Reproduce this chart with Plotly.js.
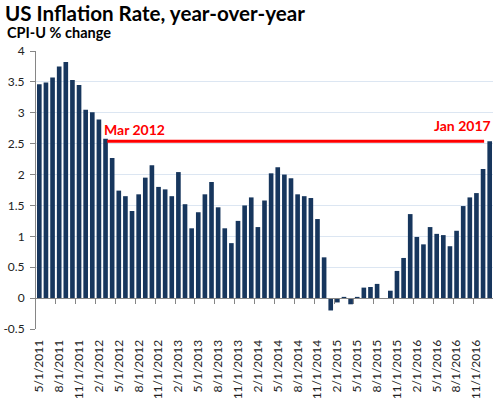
<!DOCTYPE html>
<html>
<head>
<meta charset="utf-8">
<script src="https://cdn.plot.ly/plotly-3.0.1.min.js"></script>
<style>html,body{margin:0;padding:0;background:#fff;}#chart{width:501px;height:398px;}</style>
</head>
<body>
<div id="chart"></div>
<script>
// ---- data ----
const categories = [
  "5/1/2011","6/1/2011","7/1/2011","8/1/2011","9/1/2011","10/1/2011","11/1/2011","12/1/2011",
  "1/1/2012","2/1/2012","3/1/2012","4/1/2012","5/1/2012","6/1/2012","7/1/2012","8/1/2012","9/1/2012","10/1/2012","11/1/2012","12/1/2012",
  "1/1/2013","2/1/2013","3/1/2013","4/1/2013","5/1/2013","6/1/2013","7/1/2013","8/1/2013","9/1/2013","10/1/2013","11/1/2013","12/1/2013",
  "1/1/2014","2/1/2014","3/1/2014","4/1/2014","5/1/2014","6/1/2014","7/1/2014","8/1/2014","9/1/2014","10/1/2014","11/1/2014","12/1/2014",
  "1/1/2015","2/1/2015","3/1/2015","4/1/2015","5/1/2015","6/1/2015","7/1/2015","8/1/2015","9/1/2015","10/1/2015","11/1/2015","12/1/2015",
  "1/1/2016","2/1/2016","3/1/2016","4/1/2016","5/1/2016","6/1/2016","7/1/2016","8/1/2016","9/1/2016","10/1/2016","11/1/2016","12/1/2016",
  "1/1/2017"
];
const cpiChange = [
  3.46, 3.49, 3.57, 3.75, 3.82, 3.53, 3.45, 3.05,
  3.01, 2.89, 2.58, 2.27, 1.74, 1.65, 1.41, 1.68, 1.95, 2.15, 1.80, 1.76,
  1.65, 2.04, 1.52, 1.13, 1.39, 1.68, 1.88, 1.47, 1.13, 0.89, 1.25, 1.50,
  1.63, 1.15, 1.58, 2.02, 2.12, 2.00, 1.94, 1.68, 1.65, 1.62, 1.28, 0.66,
  -0.20, -0.07, 0.02, -0.10, 0.02, 0.17, 0.18, 0.23, 0.00, 0.12, 0.44, 0.65,
  1.36, 0.99, 0.87, 1.15, 1.04, 1.02, 0.84, 1.09, 1.49, 1.63, 1.70, 2.09,
  2.54
];
const xTickLabels = [
  "5/1/2011","8/1/2011","11/1/2011","2/1/2012","5/1/2012","8/1/2012","11/1/2012",
  "2/1/2013","5/1/2013","8/1/2013","11/1/2013","2/1/2014","5/1/2014","8/1/2014","11/1/2014",
  "2/1/2015","5/1/2015","8/1/2015","11/1/2015","2/1/2016","5/1/2016","8/1/2016","11/1/2016"
];
const yTickValues = [-0.5, 0, 0.5, 1, 1.5, 2, 2.5, 3, 3.5, 4];
const yTickLabels = ["-0.5", "0", "0.5", "1", "1.5", "2", "2.5", "3", "3.5", "4"];
const refStartLabel = "Mar 2012";
const refEndLabel = "Jan 2017";
const refStartCategory = "3/1/2012";
const refEndCategory = "1/1/2017";

// ---- derived ----
const idx = categories.map((_, i) => i);
const refStart = categories.indexOf(refStartCategory);
const refEnd = categories.indexOf(refEndCategory);
const refValue = cpiChange[refEnd];
const tickIdx = xTickLabels.map(l => categories.indexOf(l));
const boundaryTicks = tickIdx.slice(1).map(i => i - 0.5);
const xRange = [-0.5, categories.length - 0.5];
const yRange = [-0.5, 4];
const zeroFrac = (0 - yRange[0]) / (yRange[1] - yRange[0]);

const font = "Lato, 'Open Sans', sans-serif";
const gray = "#868686";

const trace = {
  type: "bar",
  x: idx,
  y: cpiChange,
  marker: {color: "#17365d"},
  hoverinfo: "skip"
};

const layout = {
  width: 501, height: 398,
  margin: {l: 36, r: 8, t: 51, b: 69},
  paper_bgcolor: "#fff", plot_bgcolor: "#fff",
  showlegend: false,
  bargap: 0.3,
  font: {family: font, size: 12, color: "#222"},
  title: {
    text: "US Inflation Rate, year-over-year",
    font: {family: font, size: 20.6, color: "#000", weight: "bold"},
    xref: "container", x: 5/501, xanchor: "left",
    yref: "container", y: 1 - 14/398, yanchor: "middle"
  },
  xaxis: {
    type: "linear",
    range: xRange,
    tickmode: "array",
    tickvals: tickIdx,
    ticktext: xTickLabels,
    tickangle: -90,
    ticks: "outside", ticklen: 5, tickcolor: "rgba(0,0,0,0)",
    showgrid: false, zeroline: false, showline: false,
    tickfont: {family: font, size: 12, color: "#222"}
  },
  xaxis2: {
    type: "linear",
    overlaying: "x",
    range: xRange,
    anchor: "free",
    position: zeroFrac,
    side: "bottom",
    tickmode: "array",
    tickvals: boundaryTicks,
    showticklabels: false,
    ticks: "outside", ticklen: 5, tickcolor: gray,
    showline: true, linecolor: gray, linewidth: 1,
    showgrid: false, zeroline: false
  },
  yaxis: {
    range: yRange,
    tickmode: "array",
    tickvals: yTickValues,
    ticktext: yTickLabels,
    ticks: "outside", ticklen: 5, tickcolor: gray,
    showline: true, linecolor: gray, linewidth: 1,
    gridcolor: "#dce6f2", gridwidth: 1,
    zeroline: false,
    ticklabelstandoff: 3,
    tickfont: {family: font, size: 12, color: "#222"}
  },
  shapes: [{
    type: "line", xref: "x", yref: "y",
    x0: refStart + 0.25, x1: refEnd - 0.84,
    y0: refValue, y1: refValue,
    line: {color: "#ff0000", width: 3}
  }],
  annotations: [
    {
      text: "CPI-U % change", showarrow: false,
      xref: "paper", yref: "paper",
      x: (5 - 36) / 457, xanchor: "left",
      y: 1 + (51 - 33) / 278, yanchor: "middle",
      font: {family: font, size: 14.5, color: "#000", weight: "bold"}
    },
    {
      text: refStartLabel, showarrow: false,
      xref: "x", yref: "y",
      x: refStart - 0.5, xanchor: "left",
      y: refValue, yanchor: "bottom", yshift: 1,
      font: {family: font, size: 14, color: "#ff0000", weight: "bold"}
    },
    {
      text: refEndLabel, showarrow: false,
      xref: "x", yref: "y",
      x: refEnd + 0.5, xanchor: "right",
      y: refValue, yanchor: "bottom", yshift: 5,
      font: {family: font, size: 14, color: "#ff0000", weight: "bold"}
    }
  ]
};

const dummy = {type: "scatter", x: [], y: [], xaxis: "x2", yaxis: "y", hoverinfo: "skip"};

Plotly.newPlot("chart", [trace, dummy], layout, {staticPlot: true, displayModeBar: false});
</script>
</body>
</html>
